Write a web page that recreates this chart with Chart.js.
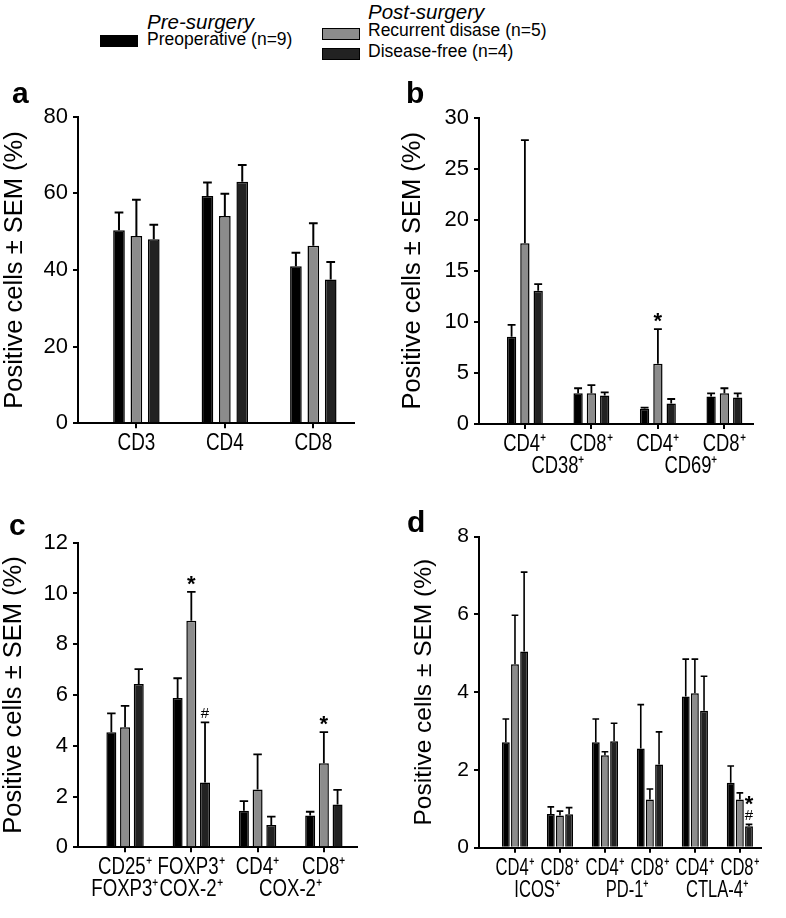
<!DOCTYPE html>
<html>
<head>
<meta charset="utf-8">
<script src="https://cdn.jsdelivr.net/npm/chart.js@4.4.1/dist/chart.umd.min.js"></script>
<style>
  body { margin: 0; background: #fff; width: 786px; height: 918px; position: relative; overflow: hidden;
         font-family: 'Liberation Sans', Arial, sans-serif; color: #000; }
  canvas { position: absolute; }
  .txt { position: absolute; white-space: nowrap; line-height: 1; }
  .hd { font-style: italic; font-size: 20.5px; }
  .it { font-size: 17.5px; }
  .box { position: absolute; width: 38px; height: 12px; box-sizing: border-box; border: 1.5px solid #000; }
  .letter { font-weight: bold; font-size: 30px; }
</style>
</head>
<body>
<div class="txt hd" style="left:147px; top:11.5px;">Pre-surgery</div>
<div class="box" style="left:100px; top:35px; background:#000;"></div>
<div class="txt it" style="left:147px; top:31px;">Preoperative (n=9)</div>
<div class="txt hd" style="left:368px; top:2px;">Post-surgery</div>
<div class="box" style="left:322px; top:28px; background:#8c8c8c;"></div>
<div class="txt it" style="left:368px; top:22.2px;">Recurrent disase (n=5)</div>
<div class="box" style="left:322px; top:48px; background:#222;"></div>
<div class="txt it" style="left:368px; top:43.2px;">Disease-free (n=4)</div>

<canvas id="chartA" width="393" height="400" style="left:0; top:70px;"></canvas>
<canvas id="chartB" width="393" height="410" style="left:393px; top:70px;"></canvas>
<canvas id="chartC" width="393" height="438" style="left:0; top:480px;"></canvas>
<canvas id="chartD" width="393" height="438" style="left:393px; top:480px;"></canvas>

<div class="txt letter" style="left:12px; top:77.6px;">a</div>
<div class="txt letter" style="left:406px; top:77.6px;">b</div>
<div class="txt letter" style="left:9px; top:509.6px;">c</div>
<div class="txt letter" style="left:407px; top:506.6px;">d</div>

<script>
// Groups (same order in every panel)
const groupNames = ['Preoperative (n=9)', 'Recurrent disase (n=5)', 'Disease-free (n=4)'];
const groupColors = ['#000000', '#8c8c8c', '#222222'];

// Panel a
const aLine1 = ['CD3', 'CD4', 'CD8'];
const aPre = [50.4, 59.3, 41.0];
const aPreSem = [4.6, 3.5, 3.5];
const aRec = [48.9, 54.1, 46.3];
const aRecSem = [9.4, 5.8, 5.9];
const aFree = [48.0, 63.0, 37.5];
const aFreeSem = [3.8, 4.4, 4.6];
const aYTicks = [0, 20, 40, 60, 80];
const aMarks = [];

// Panel b
const bLine1 = ['CD4\u207A', 'CD8\u207A', 'CD4\u207A', 'CD8\u207A'];
const bLine2 = ['CD38\u207A', 'CD69\u207A'];
const bLine2At = [0.5, 2.5];
const bPre = [8.55, 3.0, 1.5, 2.7];
const bPreSem = [1.15, 0.5, 0.1, 0.3];
const bRec = [17.7, 3.0, 5.9, 3.0];
const bRecSem = [10.1, 0.8, 3.4, 0.5];
const bFree = [13.06, 2.8, 2.0, 2.6];
const bFreeSem = [0.64, 0.3, 0.45, 0.4];
const bYTicks = [0, 5, 10, 15, 20, 25, 30];
const bMarks = [[2, 1, '*']];

// Panel c
const cLine1 = ['CD25\u207A', 'FOXP3\u207A', 'CD4\u207A', 'CD8\u207A'];
const cLine2 = ['FOXP3\u207A', 'COX-2\u207A', 'COX-2\u207A'];
const cLine2At = [0, 1, 2.5];
const cPre = [4.53, 5.88, 1.44, 1.25];
const cPreSem = [0.75, 0.78, 0.38, 0.15];
const cRec = [4.73, 8.93, 2.28, 3.31];
const cRecSem = [0.84, 1.13, 1.38, 1.23];
const cFree = [6.43, 2.55, 0.88, 1.69];
const cFreeSem = [0.59, 2.37, 0.33, 0.57];
const cYTicks = [0, 2, 4, 6, 8, 10, 12];
const cMarks = [[1, 1, '*'], [1, 2, '#'], [3, 1, '*']];

// Panel d
const dLine1 = ['CD4\u207A', 'CD8\u207A', 'CD4\u207A', 'CD8\u207A', 'CD4\u207A', 'CD8\u207A'];
const dLine2 = ['ICOS\u207A', 'PD-1\u207A', 'CTLA-4\u207A'];
const dLine2At = [0.5, 2.5, 4.5];
const dPre = [2.71, 0.87, 2.71, 2.55, 3.89, 1.67];
const dPreSem = [0.6, 0.18, 0.6, 1.13, 0.96, 0.43];
const dRec = [4.72, 0.83, 2.38, 1.24, 3.97, 1.24];
const dRecSem = [1.26, 0.11, 0.09, 0.27, 0.88, 0.17];
const dFree = [5.05, 0.86, 2.74, 2.14, 3.52, 0.55];
const dFreeSem = [2.04, 0.17, 0.46, 0.84, 0.89, 0.05];
const dYTicks = [0, 2, 4, 6, 8];
const dMarks = [[5, 2, '#'], [5, 2, '*']];

const plain = "'Liberation Sans', Arial, sans-serif";

// draws the upward SEM whiskers and the significance symbols
const errorBars = {
    id: 'errorBars',
    afterDatasetsDraw(chart, args, opts) {
        const ctx = chart.ctx;
        const yScale = chart.scales.y;
        ctx.save();
        ctx.strokeStyle = '#000';
        ctx.lineWidth = opts.lineWidth;
        chart.data.datasets.forEach((ds, di) => {
            chart.getDatasetMeta(di).data.forEach((bar, i) => {
                const top = yScale.getPixelForValue(ds.data[i].y + ds.sem[i]);
                const half = bar.width * opts.cap / 2;
                ctx.beginPath();
                ctx.moveTo(bar.x, bar.y);
                ctx.lineTo(bar.x, top);
                ctx.moveTo(bar.x - half, top);
                ctx.lineTo(bar.x + half, top);
                ctx.stroke();
            });
        });

        const cursor = {};
        ctx.fillStyle = '#000';
        ctx.textAlign = 'center';
        ctx.textBaseline = 'alphabetic';
        (opts.marks || []).forEach(([ci, di, sym]) => {
            const ds = chart.data.datasets[di];
            const bar = chart.getDatasetMeta(di).data[ci];
            const key = ci + '_' + di;
            if (cursor[key] === undefined) {
                cursor[key] = yScale.getPixelForValue(ds.data[ci].y + ds.sem[ci]) - 4;
            }
            if (sym === '*') {
                const fs = 22;
                ctx.font = `bold ${fs}px ${plain}`;
                ctx.fillText(sym, bar.x, cursor[key] - 10 + 0.58 * fs);
                cursor[key] -= 20;
            } else {
                const fs = 15;
                ctx.font = `${fs}px ${plain}`;
                ctx.fillText(sym, bar.x, cursor[key] - 6 + 0.36 * fs);
                cursor[key] -= 12;
            }
        });
        ctx.restore();
    }
};

// category names under the x axis, condensed like the printed figure
const axisNames = {
    id: 'axisNames',
    afterDraw(chart, args, opts) {
        const ctx = chart.ctx;
        const xScale = chart.scales.x;
        ctx.save();
        ctx.fillStyle = '#000';
        ctx.font = `${opts.size}px ${plain}`;
        ctx.textAlign = 'center';
        ctx.textBaseline = 'middle';
        const put = (text, value, dy) => {
            ctx.save();
            ctx.translate(xScale.getPixelForValue(value), xScale.top + dy);
            ctx.scale(opts.squeeze, 1);
            ctx.fillText(text, 0, 0);
            ctx.restore();
        };
        opts.line1.forEach((t, i) => put(t, i, opts.y1));
        (opts.line2 || []).forEach((t, i) => put(t, opts.line2At[i], opts.y2));
        ctx.restore();
    }
};

const makePanel = (id, p) => {
    const canvas = document.getElementById(id);
    const W = canvas.width, H = canvas.height;
    const values = [p.pre, p.rec, p.free];
    const sems = [p.preSem, p.recSem, p.freeSem];

    const datasets = values.map((vals, k) => ({
        label: groupNames[k],
        data: vals.map((v, i) => ({ x: i, y: v })),
        sem: sems[k],
        backgroundColor: groupColors[k],
        borderColor: '#000',
        borderWidth: 1.5,
        categoryPercentage: p.catPct,
        barPercentage: p.barPct,
    }));

    return new Chart(canvas, {
        type: 'bar',
        data: { datasets },
        options: {
            responsive: false,
            animation: false,
            layout: { padding: { left: 0, top: p.top, right: W - p.right, bottom: 0 } },
            plugins: {
                legend: { display: false },
                tooltip: { enabled: false },
                errorBars: { lineWidth: p.errWidth, cap: p.cap, marks: p.marks },
                axisNames: { line1: p.line1, line2: p.line2, line2At: p.line2At, size: 23, squeeze: p.squeeze, y1: 20.5, y2: 42.5 },
            },
            scales: {
                x: {
                    type: 'linear',
                    min: p.xMin,
                    max: p.xMax,
                    offset: false,
                    grid: { display: true, drawOnChartArea: false, drawTicks: true, tickLength: 5, color: '#000', lineWidth: 2, offset: false },
                    border: { display: true, color: '#000', width: 2 },
                    afterBuildTicks: (s) => { s.ticks = p.line1.map((_, i) => ({ value: i })); },
                    afterFit: (s) => { s.height = H - p.bottom; },
                    ticks: { display: false },
                },
                y: {
                    min: 0,
                    max: p.yTicks[p.yTicks.length - 1],
                    afterBuildTicks: (s) => { s.ticks = p.yTicks.map((v) => ({ value: v })); },
                    afterFit: (s) => { s.width = p.left; },
                    grid: { drawOnChartArea: false, drawTicks: true, tickLength: 5, color: '#000', lineWidth: 2 },
                    border: { display: true, color: '#000', width: 2 },
                    ticks: { padding: 5, color: '#000', font: { family: plain, size: p.ySize } },
                    title: {
                        display: true,
                        text: 'Positive cells \u00B1 SEM (%)',
                        color: '#000',
                        font: { family: plain, size: p.titleSize, lineHeight: 1 },
                        padding: { top: p.titlePad, bottom: 0 },
                    },
                },
            },
        },
        plugins: [errorBars, axisNames],
    });
};

makePanel('chartA', {
    line1: aLine1, pre: aPre, preSem: aPreSem, rec: aRec, recSem: aRecSem, free: aFree, freeSem: aFreeSem,
    yTicks: aYTicks, marks: aMarks,
    xMin: -0.66, xMax: 2.46, left: 78, right: 354, top: 46.7, bottom: 353.3,
    squeeze: 0.82, ySize: 22, catPct: 0.59, barPct: 0.67, cap: 0.75, errWidth: 2, titleSize: 25.5, titlePad: 2,
});

makePanel('chartB', {
    line1: bLine1, line2: bLine2, line2At: bLine2At,
    pre: bPre, preSem: bPreSem, rec: bRec, recSem: bRecSem, free: bFree, freeSem: bFreeSem,
    yTicks: bYTicks, marks: bMarks,
    xMin: -0.69, xMax: 3.43, left: 86, right: 360, top: 47.7, bottom: 354,
    squeeze: 0.8, ySize: 22, catPct: 0.6, barPct: 0.7, cap: 0.85, errWidth: 1.8, titleSize: 25.5, titlePad: 7.5,
});

makePanel('chartC', {
    line1: cLine1, line2: cLine2, line2At: cLine2At,
    pre: cPre, preSem: cPreSem, rec: cRec, recSem: cRecSem, free: cFree, freeSem: cFreeSem,
    yTicks: cYTicks, marks: cMarks,
    xMin: -0.71, xMax: 3.5, left: 78, right: 357, top: 62.7, bottom: 367.3,
    squeeze: 0.81, ySize: 22, catPct: 0.62, barPct: 0.73, cap: 0.85, errWidth: 1.8, titleSize: 25.5, titlePad: 1,
});

makePanel('chartD', {
    line1: dLine1, line2: dLine2, line2At: dLine2At,
    pre: dPre, preSem: dPreSem, rec: dRec, recSem: dRecSem, free: dFree, freeSem: dFreeSem,
    yTicks: dYTicks, marks: dMarks,
    xMin: -0.8, xMax: 5.47, left: 86, right: 368, top: 56.7, bottom: 367.7,
    squeeze: 0.72, ySize: 21, catPct: 0.61, barPct: 0.86, cap: 0.85, errWidth: 1.6, titleSize: 24.5, titlePad: 18.5,
});
</script>
</body>
</html>
